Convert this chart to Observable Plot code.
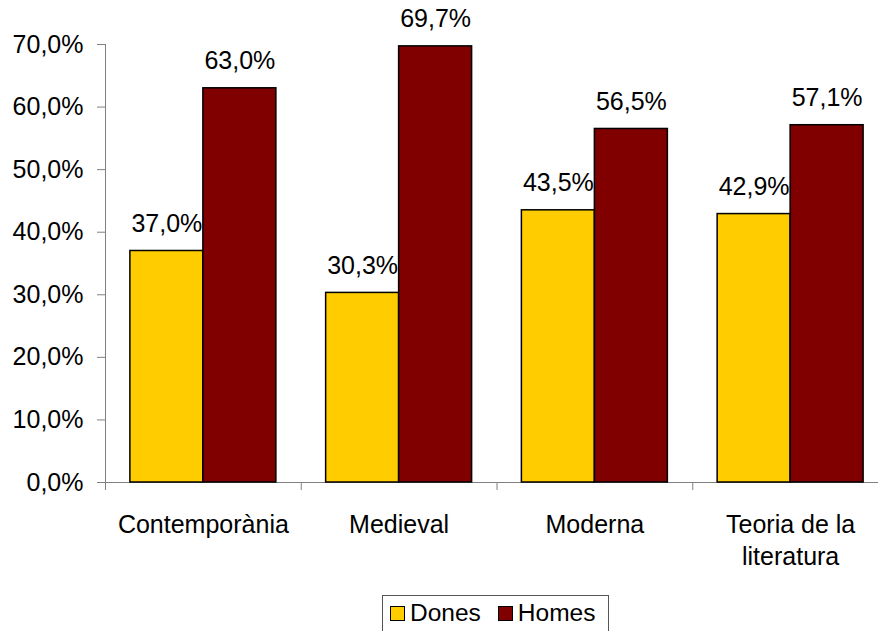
<!DOCTYPE html>
<html>
<head>
<meta charset="utf-8">
<script src="https://cdn.jsdelivr.net/npm/d3@7"></script>
<script src="https://cdn.jsdelivr.net/npm/@observablehq/plot@0.6"></script>
<style>
  html, body { margin: 0; padding: 0; background: #fff; }
  #wrap { position: relative; width: 878px; height: 631px; overflow: hidden; font-family: "Liberation Sans", Arial, sans-serif; }
  #chart { position: absolute; left: 0; top: 0; width: 888px; }
  #chart svg { max-width: none !important; }
  #legend { position: absolute; left: 382px; top: 595px; width: 227px; height: 40px; border: 1px solid #555; box-sizing: border-box;
            display: flex; align-items: flex-start; padding: 0 0 0 7px; background: #fff; }
  .item { display: flex; align-items: center; font-size: 24.5px; color: #000; margin-right: 17px; height: 34px; }
  .sw { width: 13px; height: 13px; border: 1.5px solid #000; margin-right: 5px; }
</style>
</head>
<body>
<div id="wrap"><div id="chart"></div><div id="legend"></div></div>
<script>
const categories = ["Contemporània", "Medieval", "Moderna", "Teoria de la literatura"];
const categoryLabels = ["Contemporània", "Medieval", "Moderna", "Teoria de la\nliteratura"];
const series = ["Dones", "Homes"];
const dones = [37.0, 30.3, 43.5, 42.9];
const homes = [63.0, 69.7, 56.5, 57.1];
const yTicks = [0, 10, 20, 30, 40, 50, 60, 70];
const colors = ["#FFCC00", "#800000"];

const data = [];
categories.forEach((c, i) => {
  data.push({cat: c, series: series[0], value: dones[i]});
  data.push({cat: c, series: series[1], value: homes[i]});
});

const fmt = v => v.toFixed(1).replace(".", ",") + "%";
const W = 888, ML = 105, MR = 0;
const step = (W - ML - MR) / categories.length;
const gray = "#808080";
const font = "Liberation Sans, Arial, sans-serif";
const FS = 25;

const chart = Plot.plot({
  width: W,
  height: 631,
  marginLeft: ML,
  marginRight: MR,
  marginTop: 44,
  marginBottom: 149,
  style: {fontFamily: font, fontSize: FS + "px", color: "#000", background: "transparent", maxWidth: "none"},
  fx: {domain: categories, paddingInner: 0, paddingOuter: 0, round: false, label: null},
  x: {domain: series, paddingInner: 0, paddingOuter: 0.341, round: false, axis: null},
  y: {domain: [0, 70], label: null},
  color: {domain: series, range: colors},
  marks: [
    Plot.frame({anchor: "left", facetAnchor: "left", stroke: gray}),
    Plot.ruleY([0], {stroke: gray}),
    Plot.axisY({ticks: yTicks, tickSize: 8, tickPadding: 14, tickFormat: fmt, stroke: gray, fill: "#000", fontSize: FS, label: null}),
    Plot.axisFx({anchor: "bottom", tickSize: 8, tickFormat: () => "", dx: -step / 2, stroke: gray, label: null}),
    Plot.barY(data, {fx: "cat", x: "series", y: "value", fill: "series", stroke: "#000", strokeWidth: 1.5}),
    Plot.text(data, {fx: "cat", x: "series", y: "value", text: d => fmt(d.value), dy: -19, lineAnchor: "bottom", fontSize: FS, fill: "#000"}),
    Plot.text(categories, {fx: d => d, text: d => categoryLabels[categories.indexOf(d)], frameAnchor: "bottom", dy: 28, lineAnchor: "top", lineHeight: 1.27, fontSize: FS, fill: "#000"})
  ]
});
document.getElementById("chart").appendChild(chart);

const legend = document.getElementById("legend");
series.forEach((s, i) => {
  const it = document.createElement("div");
  it.className = "item";
  const sw = document.createElement("div");
  sw.className = "sw";
  sw.style.background = colors[i];
  it.appendChild(sw);
  it.appendChild(document.createTextNode(s));
  legend.appendChild(it);
});
</script>
</body>
</html>
